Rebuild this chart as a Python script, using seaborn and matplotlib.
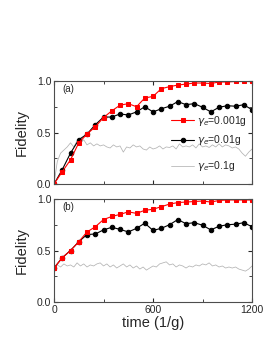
import numpy as np
import pandas as pd
import seaborn as sns
import matplotlib.pyplot as plt
from matplotlib.ticker import MultipleLocator

# marker series, every 50 (1/g)
t_mark = list(range(0, 1201, 50))
red_a = [0, 0.12, 0.235, 0.40, 0.485, 0.555, 0.645, 0.71, 0.765, 0.78, 0.75, 0.835, 0.85,
         0.925, 0.945, 0.96, 0.97, 0.98, 0.98, 0.975, 0.99, 0.99, 0.995, 0.995, 0.995]
black_a = [0, 0.14, 0.30, 0.43, 0.485, 0.575, 0.65, 0.65, 0.68, 0.67, 0.70, 0.75, 0.70,
           0.73, 0.755, 0.80, 0.77, 0.78, 0.745, 0.70, 0.745, 0.76, 0.755, 0.77, 0.72]
red_b = [0.33, 0.43, 0.50, 0.585, 0.68, 0.73, 0.80, 0.83, 0.85, 0.875, 0.86, 0.89, 0.90,
         0.925, 0.95, 0.965, 0.97, 0.975, 0.98, 0.97, 0.985, 0.99, 0.99, 0.99, 0.99]
black_b = [0.33, 0.43, 0.50, 0.585, 0.655, 0.66, 0.70, 0.725, 0.705, 0.68, 0.715, 0.765, 0.695,
           0.715, 0.75, 0.80, 0.76, 0.77, 0.745, 0.70, 0.735, 0.75, 0.755, 0.77, 0.73]

# noisy gray series, every 20 (1/g)
t_gray = list(range(0, 1201, 20))
gray_a = [0.0, 0.22, 0.30, 0.33, 0.36, 0.40, 0.36, 0.42, 0.40, 0.43, 0.38, 0.40, 0.37, 0.39,
          0.37, 0.38, 0.36, 0.35, 0.38, 0.36, 0.37, 0.31, 0.36, 0.35, 0.38, 0.36, 0.37, 0.34,
          0.33, 0.36, 0.34, 0.35, 0.37, 0.34, 0.36, 0.355, 0.37, 0.34, 0.39, 0.36, 0.37, 0.36,
          0.38, 0.35, 0.39, 0.36, 0.37, 0.355, 0.38, 0.36, 0.39, 0.36, 0.38, 0.37, 0.35, 0.36,
          0.34, 0.30, 0.27, 0.31, 0.34]
gray_b = [0.33, 0.36, 0.34, 0.37, 0.35, 0.36, 0.34, 0.38, 0.35, 0.37, 0.34, 0.36, 0.35, 0.37,
          0.38, 0.35, 0.37, 0.34, 0.36, 0.33, 0.35, 0.37, 0.34, 0.36, 0.33, 0.35, 0.32, 0.34,
          0.31, 0.33, 0.35, 0.34, 0.37, 0.38, 0.39, 0.36, 0.37, 0.34, 0.36, 0.35, 0.33, 0.35,
          0.34, 0.36, 0.35, 0.37, 0.36, 0.38, 0.35, 0.36, 0.34, 0.35, 0.33, 0.34, 0.33, 0.34,
          0.32, 0.31, 0.30, 0.32, 0.35]

sns.set_style("ticks")
plt.rcParams['font.family'] = ['Liberation Sans', 'DejaVu Sans']

fig = plt.figure(figsize=(2.68, 3.46), dpi=100)
ax_a = fig.add_axes([0.2015, 0.468, 0.739, 0.298])
ax_b = fig.add_axes([0.2015, 0.127, 0.739, 0.298])

def draw(ax, red, black, gray):
    sns.lineplot(x=t_gray, y=gray, ax=ax, color='0.7', lw=0.55, label=r'$\gamma_e$=0.1g')
    sns.lineplot(x=t_mark, y=black, ax=ax, color='black', lw=0.8, marker='o', ms=3.2,
                 mec='black', label=r'$\gamma_e$=0.01g')
    sns.lineplot(x=t_mark, y=red, ax=ax, color='red', lw=0.8, marker='s', ms=2.9,
                 mec='red', label=r'$\gamma_e$=0.001g')
    ax.set_xlim(0, 1200)
    ax.set_ylim(0, 1.0)
    ax.xaxis.set_major_locator(MultipleLocator(600))
    ax.xaxis.set_minor_locator(MultipleLocator(300))
    ax.yaxis.set_major_locator(MultipleLocator(0.5))
    ax.yaxis.set_minor_locator(MultipleLocator(0.25))
    ax.tick_params(which='both', direction='in', top=True, right=True, labelsize=7.5, pad=2)
    ax.tick_params(which='major', length=3)
    ax.tick_params(which='minor', length=2)
    ax.yaxis.set_major_formatter(plt.FuncFormatter(lambda v, p: f'{v:.1f}'))
    ax.set_ylabel('Fidelity', fontsize=10.5, labelpad=6)
    for s in ax.spines.values():
        s.set_linewidth(0.8)
        s.set_color('0.3')
        s.set_visible(True)
    ax.get_legend().remove()

draw(ax_a, red_a, black_a, gray_a)
draw(ax_b, red_b, black_b, gray_b)

ax_a.tick_params(labelbottom=False)
ax_b.set_xlabel('time (1/g)', fontsize=10.5, labelpad=1)
ax_a.text(0.04, 0.92, '(a)', transform=ax_a.transAxes, fontsize=7, va='center')
ax_b.text(0.04, 0.92, '(b)', transform=ax_b.transAxes, fontsize=7, va='center')

h, l = ax_a.get_legend_handles_labels()
leg1 = ax_a.legend([h[2], h[1]], [l[2], l[1]], loc='upper left', bbox_to_anchor=(0.57, 0.72),
                   frameon=False, fontsize=7.5, handlelength=2.2, handletextpad=0.3,
                   labelspacing=0.5, borderaxespad=0)
ax_a.add_artist(leg1)
ax_a.legend([h[0]], [l[0]], loc='upper left', bbox_to_anchor=(0.57, 0.28), frameon=False,
            fontsize=7.5, handlelength=2.2, handletextpad=0.3, borderaxespad=0)

fig.savefig('out.png', dpi=100)
